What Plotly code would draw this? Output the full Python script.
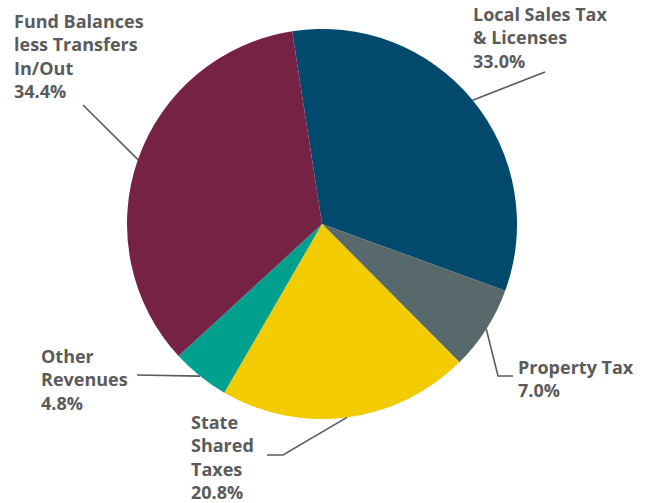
import math
import plotly.graph_objects as go

# Revenue sources (percent of total)
categories = ["Local Sales Tax<br>& Licenses", "Property Tax", "State<br>Shared<br>Taxes",
              "Other<br>Revenues", "Fund Balances<br>less Transfers<br>In/Out"]
values = [33.0, 7.0, 20.8, 4.8, 34.4]
colors = ["#014a6e", "#58696b", "#f2cc00", "#00a08e", "#762244"]

W, H = 649, 503
CX, CY, R = 322, 224, 195          # pie centre and radius in pixels
ROTATION = -8.8                    # start angle of first slice (deg, clockwise from 12 o'clock)
TEXT = "#5b5b5b"

# label text block position (left, top) and leader-line bend points, in pixels
label_pos = [(471, 0), (516, 353), (189, 408), (39, 342), (12, 7)]
leader_bends = [
    [(545, 72)],
    [(498, 376), (513, 376)],
    [(283, 455), (267, 455)],
    [(137, 375)],
    [(83, 105)],
]

fig = go.Figure(go.Pie(
    labels=categories,
    values=values,
    sort=False,
    direction="clockwise",
    rotation=ROTATION,
    marker=dict(colors=colors, line=dict(width=0)),
    textinfo="none",
    hoverinfo="label+percent",
    showlegend=False,
    domain=dict(x=[(CX - R) / W, (CX + R) / W],
                y=[(H - CY - R) / H, (H - CY + R) / H]),
))


def px(x, y):
    return x / W, 1 - y / H


total = sum(values)
cum = 0.0
shapes, annotations = [], []
for name, v, (lx, ly), bends in zip(categories, values, label_pos, leader_bends):
    mid = math.radians(ROTATION + (cum + v / 2) / total * 360)
    cum += v
    rim = (CX + R * math.sin(mid), CY - R * math.cos(mid))
    pts = [rim] + bends
    path = "M " + " L ".join(f"{px(*p)[0]},{px(*p)[1]}" for p in pts)
    shapes.append(dict(type="path", xref="paper", yref="paper", path=path,
                       line=dict(color=TEXT, width=1.6)))
    ax, ay = px(lx, ly)
    annotations.append(dict(
        x=ax, y=ay, xref="paper", yref="paper", xanchor="left", yanchor="top",
        align="left", showarrow=False,
        text=f"<b>{name}<br>{v:.1f}%</b>",
        font=dict(family="Open Sans", size=18, color=TEXT),
    ))

fig.update_layout(
    width=W, height=H,
    margin=dict(l=0, r=0, t=0, b=0),
    paper_bgcolor="white",
    plot_bgcolor="white",
    shapes=shapes,
    annotations=annotations,
)

fig.write_html("out.html")
